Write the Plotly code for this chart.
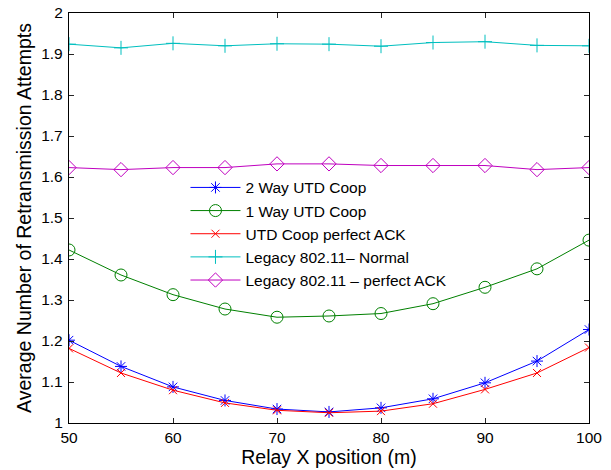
import plotly.graph_objects as go

x_pos = [50, 55, 60, 65, 70, 75, 80, 85, 90, 95, 100]

two_way = [1.202, 1.138, 1.088, 1.055, 1.034, 1.027, 1.037, 1.059, 1.098, 1.151, 1.228]
one_way = [1.422, 1.361, 1.313, 1.278, 1.258, 1.261, 1.267, 1.291, 1.331, 1.376, 1.446]
perfect_ack = [1.182, 1.122, 1.080, 1.049, 1.031, 1.025, 1.029, 1.047, 1.082, 1.122, 1.184]
legacy_normal = [1.924, 1.915, 1.926, 1.920, 1.925, 1.924, 1.919, 1.928, 1.930, 1.921, 1.920]
legacy_ack = [1.623, 1.618, 1.623, 1.623, 1.632, 1.632, 1.628, 1.628, 1.628, 1.618, 1.623]

names = ["2 Way UTD Coop", "1 Way UTD Coop", "UTD Coop perfect ACK",
         "Legacy 802.11\u2013 Normal", "Legacy 802.11 \u2013 perfect ACK"]
series = [two_way, one_way, perfect_ack, legacy_normal, legacy_ack]
colors = ["#0000ff", "#008000", "#ff0000", "#00bfbf", "#bf00bf"]
symbols = ["asterisk-open", "circle-open", "x-thin-open", "cross-thin-open", "diamond-open"]
sizes = [10, 12, 8, 10, 11]

fig = go.Figure()
for nm, ys, c, s, sz in zip(names, series, colors, symbols, sizes):
    fig.add_trace(go.Scatter(
        x=x_pos, y=ys, name=nm, mode="lines+markers",
        line=dict(color=c, width=1),
        marker=dict(symbol=s, size=sz, color=c, line=dict(color=c, width=1)),
    ))

font = "Liberation Sans, Arial, sans-serif"
axis_common = dict(
    showgrid=False, zeroline=False, showline=True, linecolor="black", linewidth=1.3,
    mirror="ticks", ticks="inside", ticklen=5, tickcolor="#262626", tickwidth=1,
    tickfont=dict(family=font, size=15.5, color="black"), automargin=False,
)
fig.update_xaxes(range=[50, 100], tick0=50, dtick=10, ticklabelstandoff=0,
                 title=dict(text="Relay X position (m)", font=dict(family=font, size=19.5, color="black"), standoff=2),
                 **axis_common)
fig.update_yaxes(range=[1, 2], tick0=1, dtick=0.1, ticklabelstandoff=2,
                 title=dict(text="Average Number of Retransmission Attempts", font=dict(family=font, size=19.5, color="black"), standoff=4),
                 **axis_common)

fig.update_layout(
    width=611, height=470,
    margin=dict(l=69, r=22, t=13, b=47),
    paper_bgcolor="white", plot_bgcolor="white",
    showlegend=True,
    legend=dict(x=0.224, y=0.615, xanchor="left", yanchor="top",
                bgcolor="rgba(0,0,0,0)", borderwidth=0, itemwidth=50,
                font=dict(family=font, size=15.5, color="black"), tracegroupgap=0),
)

fig.write_html("out.html")
